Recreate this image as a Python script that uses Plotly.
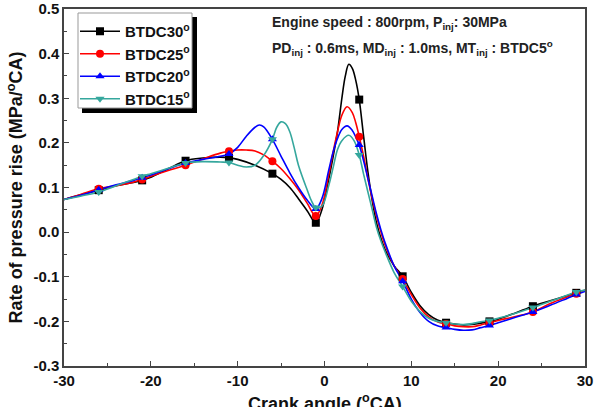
import plotly.graph_objects as go

# ---- data ----
names = ["BTDC30<sup>o</sup>", "BTDC25<sup>o</sup>", "BTDC20<sup>o</sup>", "BTDC15<sup>o</sup>"]
marker_angles = [-26, -21, -16, -11, -6, -1, 4, 9, 14, 19, 24, 29]

x_b30 = [-30, -28, -26, -24, -22, -21, -20, -18, -16, -14, -12, -11, -10, -8, -6, -5, -4, -3, -2, -1,
         -0.3, 0.5, 1, 1.5, 2, 2.4, 2.8, 3.2, 3.6, 4, 4.5, 5, 5.5, 6, 6.5, 7, 8, 9, 10, 11, 12, 13,
         14, 15, 16, 17, 18, 19, 20, 22, 24, 26, 28, 29, 30]
y_b30 = [0.073, 0.084, 0.094, 0.104, 0.111, 0.116, 0.123, 0.142, 0.160, 0.166, 0.168, 0.167, 0.163,
         0.150, 0.131, 0.118, 0.100, 0.075, 0.048, 0.021,
         0.050, 0.120, 0.170, 0.225, 0.300, 0.350, 0.376, 0.367, 0.340, 0.297, 0.215, 0.135, 0.070,
         0.020, -0.014, -0.040, -0.075, -0.099, -0.135, -0.165, -0.185, -0.197,
         -0.203, -0.206, -0.208, -0.207, -0.204, -0.200, -0.195, -0.181, -0.166, -0.154, -0.142,
         -0.136, -0.130]

x_b25 = [-30, -28, -26, -24, -22, -21, -20, -18, -16, -14, -12, -11, -10, -9, -8, -7, -6, -5, -4, -3,
         -2, -1, -0.3, 0.5, 1, 1.5, 2, 2.6, 3.2, 3.6, 4, 4.5, 5, 5.5, 6, 6.5, 7, 8, 9, 10, 11, 12, 13,
         14, 15, 16, 17, 18, 19, 20, 22, 24, 26, 28, 29, 30]
y_b25 = [0.073, 0.085, 0.097, 0.104, 0.112, 0.118, 0.125, 0.138, 0.150, 0.164, 0.177, 0.181, 0.184,
         0.184, 0.182, 0.173, 0.159, 0.142, 0.120, 0.095,
         0.065, 0.036, 0.060, 0.130, 0.180, 0.225, 0.262, 0.281, 0.268, 0.245, 0.214, 0.170, 0.120,
         0.075, 0.035, 0.000, -0.030, -0.075, -0.105, -0.140, -0.170, -0.190, -0.201,
         -0.206, -0.210, -0.212, -0.212, -0.208, -0.203, -0.198, -0.189, -0.179, -0.160, -0.145,
         -0.138, -0.130]

x_b20 = [-30, -28, -26, -24, -22, -21, -20, -18, -16, -14, -12, -11, -10, -9, -8, -7.5, -7, -6, -5, -4,
         -3, -2, -1, -0.3, 0.5, 1, 1.5, 2, 2.6, 3.2, 3.6, 4, 4.5, 5, 5.5, 6, 6.5, 7, 8, 9, 10, 11, 12,
         13, 14, 15, 16, 17, 18, 19, 20, 22, 24, 26, 28, 29, 30]
y_b20 = [0.073, 0.083, 0.095, 0.106, 0.116, 0.122, 0.128, 0.142, 0.155, 0.163, 0.170, 0.175, 0.190,
         0.215, 0.235, 0.240, 0.236, 0.208, 0.170, 0.133,
         0.100, 0.072, 0.052, 0.075, 0.140, 0.180, 0.210, 0.230, 0.238, 0.228, 0.213, 0.195, 0.160,
         0.120, 0.080, 0.040, 0.005, -0.025, -0.075, -0.110, -0.150, -0.180, -0.200,
         -0.210, -0.214, -0.218, -0.220, -0.219, -0.214, -0.209, -0.203, -0.191, -0.179, -0.164,
         -0.148, -0.140, -0.133]

x_b15 = [-30, -28, -26, -24, -22, -21, -20, -18, -16, -14, -12, -11, -10, -9, -8, -7, -6, -5.5, -5,
         -4.5, -4, -3.5, -3, -2, -1.5, -1, -0.3, 0.5, 1, 1.5, 2, 2.8, 3.4, 4, 4.5, 5, 5.5, 6, 6.5, 7,
         8, 9, 10, 11, 12, 13, 14, 15, 16, 17, 18, 19, 20, 22, 24, 26, 28, 29, 30]
y_b15 = [0.073, 0.081, 0.090, 0.104, 0.118, 0.125, 0.131, 0.143, 0.155, 0.158, 0.157, 0.156, 0.150,
         0.146, 0.150, 0.172, 0.208, 0.235, 0.247,
         0.243, 0.225, 0.190, 0.150, 0.095, 0.070, 0.055, 0.058, 0.105, 0.145, 0.185, 0.205, 0.217,
         0.205, 0.173, 0.130, 0.090, 0.050, 0.010, -0.020, -0.045,
         -0.090, -0.122, -0.155, -0.178, -0.193, -0.200, -0.203, -0.206, -0.207, -0.205, -0.201,
         -0.198, -0.193, -0.182, -0.169, -0.155, -0.141, -0.134, -0.130]

series_x = [x_b30, x_b25, x_b20, x_b15]
series_y = [y_b30, y_b25, y_b20, y_b15]
colors = ["#000000", "#ff0000", "#0000ff", "#35a79d"]
symbols = ["square", "circle", "triangle-up", "triangle-down"]

x_ticks = [-30, -20, -10, 0, 10, 20, 30]
y_ticks = [-0.3, -0.2, -0.1, 0.0, 0.1, 0.2, 0.3, 0.4, 0.5]

FONT = "Liberation Sans"
W, H = 598, 407
ML, MR, MT, MB = 64, 13, 9, 41
PW, PH = W - ML - MR, H - MT - MB


def px_x(p):
    return (p - ML) / PW


def px_y(p):
    return 1 - (p - MT) / PH


fig = go.Figure()
for xs, ys, c, s, n in zip(series_x, series_y, colors, symbols, names):
    fig.add_trace(go.Scatter(x=xs, y=ys, mode="lines", line=dict(color=c, width=1.6, shape="spline", smoothing=1.0),
                             showlegend=False, legendgroup=n, hoverinfo="skip"))
for xs, ys, c, s, n in zip(series_x, series_y, colors, symbols, names):
    mx = [xv for xv in xs if xv in marker_angles]
    my = [yv for xv, yv in zip(xs, ys) if xv in marker_angles]
    fig.add_trace(go.Scatter(x=mx, y=my, mode="markers", marker=dict(color=c, symbol=s, size=8),
                             showlegend=False, legendgroup=n))
for c, s, n in zip(colors, symbols, names):
    fig.add_trace(go.Scatter(x=[None], y=[None], mode="lines+markers", name=n, legendgroup=n,
                             line=dict(color=c, width=1.6), marker=dict(color=c, symbol=s, size=8)))

axis_common = dict(showline=True, linecolor="#444", linewidth=1.5, mirror=True, showgrid=False, zeroline=False,
                   ticks="inside", ticklen=5, tickwidth=1.2, tickcolor="#444", automargin=False,
                   tickfont=dict(family=FONT, size=15, color="#111", weight="bold"))

fig.update_xaxes(range=[-30, 30], tickvals=x_ticks, ticktext=[str(v) for v in x_ticks],
                 minor=dict(dtick=5, ticks="inside", ticklen=3, tickcolor="#444", tickwidth=1),
                 ticklabelstandoff=0,
                 **axis_common)
fig.update_yaxes(range=[-0.3, 0.5], tickvals=y_ticks, ticktext=[f"{v:.1f}" for v in y_ticks],
                 minor=dict(dtick=0.05, ticks="inside", ticklen=3, tickcolor="#444", tickwidth=1),
                 title=dict(text="Rate of pressure rise (MPa/<sup>o</sup>CA)", font=dict(family=FONT, size=18, color="#111", weight="bold"),
                            standoff=6),
                 **axis_common)

# x-axis title (its bottom touches the window edge, as in the reference)
fig.add_annotation(xref="paper", yref="paper", x=0.5, y=px_y(389), xanchor="center", yanchor="top", showarrow=False,
                   text="Crank angle (<sup>o</sup>CA)",
                   font=dict(family=FONT, size=18, color="#111", weight="bold"))

fig.add_annotation(xref="paper", yref="paper", x=px_x(270), y=px_y(23), xanchor="left", yanchor="middle", showarrow=False,
                   text="Engine speed : 800rpm, P<sub>inj</sub>: 30MPa",
                   font=dict(family=FONT, size=14, color="#222", weight="bold"))
fig.add_annotation(xref="paper", yref="paper", x=px_x(270), y=px_y(48), xanchor="left", yanchor="middle", showarrow=False,
                   text="PD<sub>inj</sub> : 0.6ms, MD<sub>inj</sub> : 1.0ms, MT<sub>inj</sub> : BTDC5<sup>o</sup>",
                   font=dict(family=FONT, size=14, color="#222", weight="bold"))

# legend frame with drop shadow
fig.add_shape(type="rect", xref="paper", yref="paper", x0=px_x(82), x1=px_x(197), y0=px_y(113), y1=px_y(17),
              fillcolor="black", line=dict(width=0), layer="above")
fig.add_shape(type="rect", xref="paper", yref="paper", x0=px_x(78), x1=px_x(192), y0=px_y(108), y1=px_y(13),
              fillcolor="white", line=dict(color="#999", width=1), layer="above")

fig.update_layout(
    width=W, height=H,
    margin=dict(l=ML, r=MR, t=MT, b=MB),
    plot_bgcolor="white", paper_bgcolor="white",
    legend=dict(x=px_x(75), y=px_y(15), xanchor="left", yanchor="top", bgcolor="rgba(0,0,0,0)",
                borderwidth=0, itemwidth=40,
                font=dict(family=FONT, size=15, color="#111", weight="bold"), tracegroupgap=0),
)

fig.write_html("out.html")
